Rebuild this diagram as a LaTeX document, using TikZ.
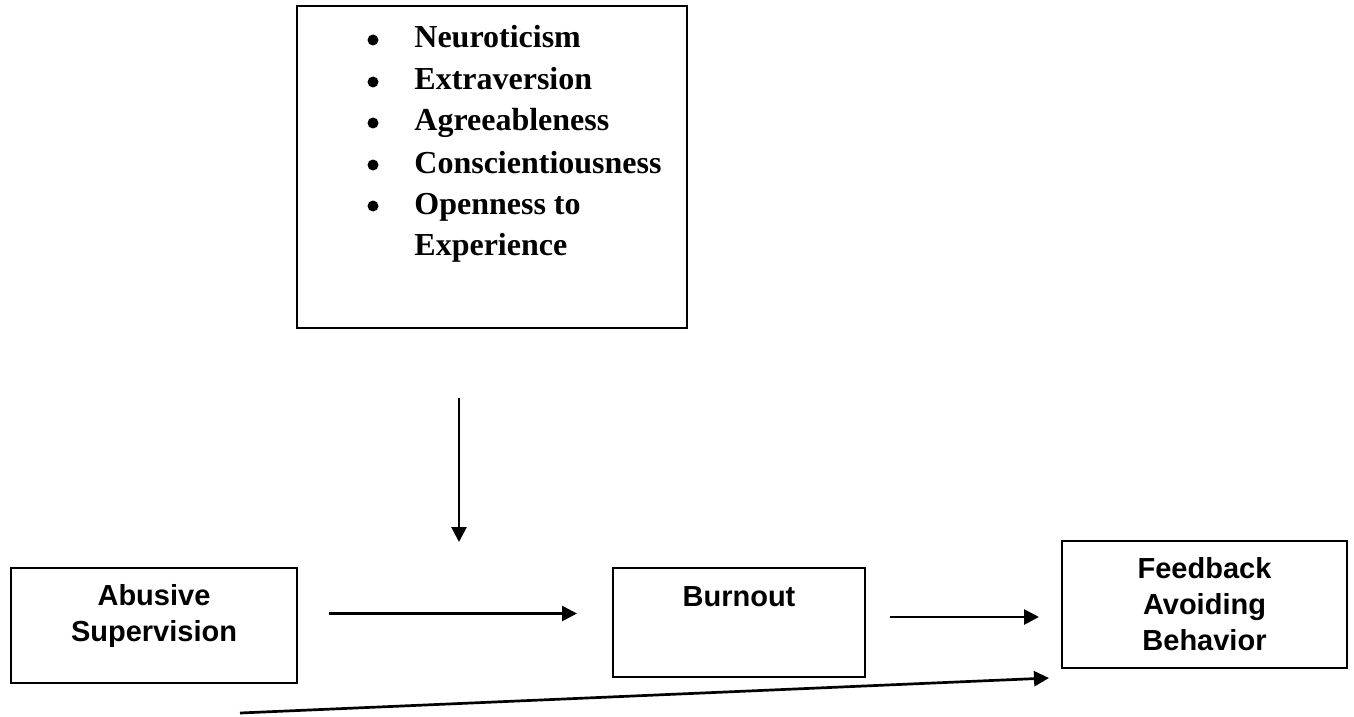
\documentclass[tikz,border=0pt]{standalone}
\usepackage{fontspec}
\setmainfont{Liberation Serif}
\setsansfont{Liberation Sans}
\usetikzlibrary{positioning, arrows.meta}

\tikzset{
  box/.style={draw, line width=1pt, inner sep=0pt},
  boxtext/.style={font=\sffamily\bfseries\fontsize{14.5}{18}\selectfont, align=center, inner sep=0pt},
  trait/.style={font=\bfseries\fontsize{16}{21}\selectfont, inner sep=0pt},
  dot/.style={circle, fill, inner sep=0pt, minimum size=5.5pt},
  arr/.style={line width=1.35pt, -{Triangle[length=7.5pt, width=7.5pt]}}
}

\begin{document}
\begin{tikzpicture}[x=0.5pt, y=-0.5pt]
  \useasboundingbox (0,0) rectangle (1354,717);

  % personality traits
  \node[box, minimum width=195pt, minimum height=161pt] (traits) at (492,167) {};
  \foreach \y/\name [count=\i] in {48/Neuroticism, 90/Extraversion, 131/Agreeableness, 173/Conscientiousness, 214/Openness to} {
    \node[dot] (b\i) at (373,\y-8) {};
    \node[trait, anchor=base west] (t\i) at (414,\y) {\name};
  }
  \node[trait, anchor=base west] (t6) at (414,255) {Experience};

  % model boxes
  \node[box, minimum width=143pt, minimum height=57.5pt] (abusive) at (154,625.5) {};
  \node[boxtext, below=8.5pt of abusive.north] (abusive-t) {Abusive\\Supervision};

  \node[box, minimum width=126pt, minimum height=54.5pt] (burnout) at (739,622.5) {};
  \node[boxtext, below=9.5pt of burnout.north] (burnout-t) {Burnout};

  \node[box, minimum width=142.5pt, minimum height=63.5pt] (feedback) at (1204.5,604.5) {};
  \node[boxtext, below=8.5pt of feedback.north] (feedback-t) {Feedback\\Avoiding\\Behavior};

  % paths
  \coordinate (diagstart) at (240,713);
  \coordinate (modpoint) at (459,542);

  \draw[arr] ([xshift=15.5pt, yshift=6pt]abusive.east) -- ([xshift=-17.5pt, yshift=4.5pt]burnout.west);
  \draw[arr] ([xshift=12pt, yshift=2.75pt]burnout.east) -- ([xshift=-11pt, yshift=-6.25pt]feedback.west);
  \draw[arr] (diagstart) -- ([xshift=-6pt, yshift=-4.5pt]feedback.south west);
  \draw[arr] ([xshift=-16.5pt, yshift=-34.5pt]traits.south) -- (modpoint);
\end{tikzpicture}
\end{document}
